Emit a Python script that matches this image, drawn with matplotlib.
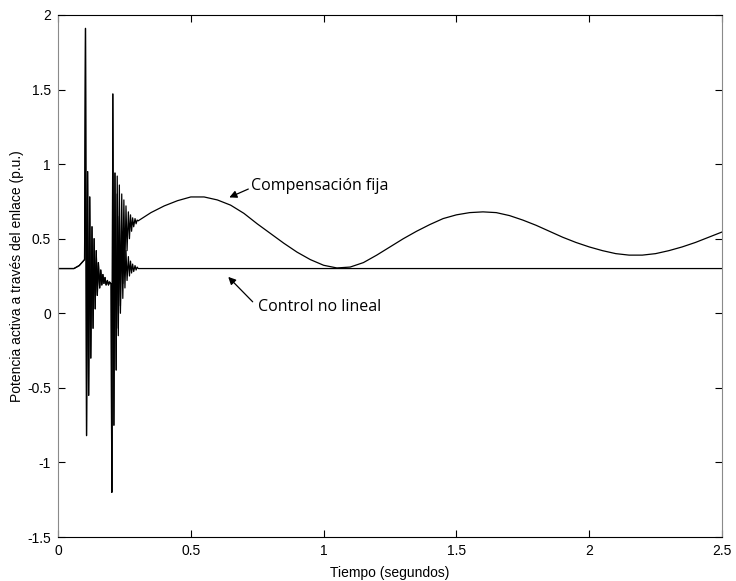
import numpy as np
import matplotlib.pyplot as plt

# pre-fault and first disturbance (both cases follow the same trace)
t_common = [0.000, 0.060, 0.080, 0.095, 0.100, 0.1035, 0.1075, 0.1115, 0.1155,
            0.1195, 0.1235, 0.128, 0.132, 0.136, 0.140, 0.144, 0.148, 0.152,
            0.157, 0.161, 0.165, 0.169, 0.173, 0.177, 0.181, 0.186, 0.190,
            0.194, 0.198]
p_common = [0.30, 0.30, 0.32, 0.35, 0.36, 1.91, -0.82, 0.95, -0.55,
            0.78, -0.30, 0.58, -0.10, 0.50, 0.03, 0.42, 0.12, 0.34,
            0.17, 0.29, 0.19, 0.26, 0.20, 0.24, 0.19, 0.22, 0.19,
            0.21, 0.20]

# second disturbance
t_second = [0.200, 0.2025, 0.2065, 0.2105, 0.2145, 0.219, 0.223, 0.227, 0.231,
            0.235, 0.240, 0.244, 0.248, 0.252, 0.256, 0.260, 0.265, 0.269,
            0.273, 0.277, 0.281, 0.285, 0.290, 0.294, 0.298, 0.302]
p_fija_2 = [0.20, -1.20, 1.47, -0.75, 0.94, -0.38, 0.92, -0.10, 0.86,
            0.05, 0.80, 0.20, 0.76, 0.32, 0.72, 0.42, 0.68, 0.50,
            0.66, 0.55, 0.64, 0.58, 0.635, 0.60, 0.625, 0.62]
p_ctrl_2 = [0.20, -1.20, 1.47, -0.75, 0.94, -0.38, 0.80, -0.15, 0.65,
            0.00, 0.55, 0.10, 0.48, 0.17, 0.42, 0.22, 0.38, 0.25,
            0.35, 0.27, 0.33, 0.28, 0.32, 0.29, 0.31, 0.30]

# slow power swing with fixed compensation
t_swing = [0.30, 0.35, 0.40, 0.45, 0.50, 0.55, 0.60, 0.65, 0.70, 0.75, 0.80,
           0.85, 0.90, 0.95, 1.00, 1.05, 1.10, 1.15, 1.20, 1.25, 1.30, 1.35,
           1.40, 1.45, 1.50, 1.55, 1.60, 1.65, 1.70, 1.75, 1.80, 1.85, 1.90,
           1.95, 2.00, 2.05, 2.10, 2.15, 2.20, 2.25, 2.30, 2.35, 2.40, 2.45,
           2.50]
p_swing = [0.62, 0.675, 0.72, 0.755, 0.78, 0.78, 0.76, 0.725, 0.67, 0.60, 0.535,
           0.47, 0.41, 0.36, 0.322, 0.304, 0.31, 0.34, 0.39, 0.445, 0.50, 0.55,
           0.595, 0.635, 0.66, 0.675, 0.68, 0.675, 0.655, 0.625, 0.59, 0.55, 0.51,
           0.475, 0.445, 0.42, 0.40, 0.39, 0.39, 0.40, 0.42, 0.445, 0.475, 0.51,
           0.545]

# nonlinear control settles back to the pre-fault value
t_flat = [0.31, 2.50]
p_flat = [0.30, 0.30]

t_fija = t_common + t_second + t_swing[1:]
p_fija = p_common + p_fija_2 + p_swing[1:]
t_ctrl = t_common + t_second + t_flat
p_ctrl = p_common + p_ctrl_2 + p_flat

plt.rcParams['font.family'] = ['Liberation Sans', 'DejaVu Sans']
plt.rcParams['font.size'] = 10

fig = plt.figure(figsize=(7.36, 5.81), dpi=100)
ax = fig.add_axes([0.0788, 0.0757, 0.9022, 0.8985])

ax.plot(t_ctrl, p_ctrl, color='black', lw=0.9)
ax.plot(t_fija, p_fija, color='black', lw=0.9)

ax.set_xlim(0, 2.5)
ax.set_ylim(-1.5, 2)
ax.set_xticks(np.arange(0, 2.51, 0.5))
ax.set_yticks(np.arange(-1.5, 2.01, 0.5))
ax.set_xticklabels(['0', '0.5', '1', '1.5', '2', '2.5'])
ax.set_yticklabels(['-1.5', '-1', '-0.5', '0', '0.5', '1', '1.5', '2'])
ax.tick_params(direction='in', top=True, right=True, length=5, width=0.8, pad=5)

for side in ['left', 'right']:
    ax.spines[side].set_color('#8a8a8a')
for side in ['top', 'bottom']:
    ax.spines[side].set_color('black')

ax.set_xlabel('Tiempo (segundos)', labelpad=6)
ax.set_ylabel('Potencia activa a través del enlace (p.u.)', labelpad=2)

# annotations
ax.annotate('', xy=(0.645, 0.777), xytext=(0.7165, 0.833),
            arrowprops=dict(arrowstyle='-|>', color='black', lw=0.9,
                            mutation_scale=11, shrinkA=0, shrinkB=0))
ax.text(0.7255, 0.855, 'Compensación fija', ha='left', va='center',
        fontsize=11.5, family=['Open Sans', 'DejaVu Sans'])
ax.annotate('', xy=(0.641, 0.244), xytext=(0.733, 0.077),
            arrowprops=dict(arrowstyle='-|>', color='black', lw=0.9,
                            mutation_scale=11, shrinkA=0, shrinkB=0))
ax.text(0.754, 0.044, 'Control no lineal', ha='left', va='center',
        fontsize=11.5, family=['Open Sans', 'DejaVu Sans'])

fig.savefig('out.png', dpi=100)
